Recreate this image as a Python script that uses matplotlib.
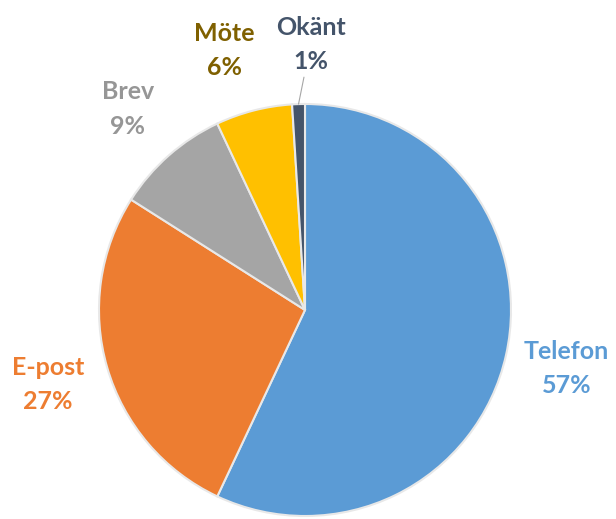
import numpy as np
import matplotlib.pyplot as plt

categories = ["Telefon", "E-post", "Brev", "Möte", "Okänt"]
shares = [57, 27, 9, 6, 1]
slice_colors = ["#5B9BD5", "#ED7D31", "#A5A5A5", "#FFC000", "#44546A"]
label_colors = ["#5B9BD5", "#ED7D31", "#969696", "#7F6000", "#44546A"]

fig = plt.figure(figsize=(6.16, 5.19), dpi=100)
ax = fig.add_axes([0, 0, 1, 1])

cx, cy, r = 305, 209, 206
wedges, _ = ax.pie(shares, colors=slice_colors, startangle=90, counterclock=False,
                   center=(cx, cy), radius=r, frame=True,
                   wedgeprops=dict(edgecolor="#E8E8E8", linewidth=1.5))
ax.set_xlim(0, 616)
ax.set_ylim(0, 519)
ax.set_aspect("equal")
ax.axis("off")

# small horizontal nudges so the labels sit where Excel put them
nudge = {"Möte": -14, "Okänt": 14}

for w, name, val, col in zip(wedges, categories, shares, label_colors):
    mid = np.deg2rad((w.theta1 + w.theta2) / 2)
    lx = cx + 1.3 * r * np.cos(mid) + nudge.get(name, 0)
    ly = cy + 1.3 * r * np.sin(mid)
    txt = f"{name}\n{val}%"
    if name == "Okänt":
        # small slice: label pushed aside with a leader line
        ax.annotate(txt, xy=(cx + r * np.cos(mid), cy + r * np.sin(mid)),
                    xytext=(lx, ly - 2), ha="center", va="center",
                    color=col, fontsize=18, fontweight="bold", family="Lato",
                    linespacing=1.6,
                    arrowprops=dict(arrowstyle="-", color="#A6A6A6", lw=0.8,
                                    shrinkA=1, shrinkB=0))
    else:
        ax.text(lx, ly, txt, ha="center", va="center", color=col,
                fontsize=18, fontweight="bold", family="Lato", linespacing=1.6)

fig.savefig("out.png", dpi=100)
